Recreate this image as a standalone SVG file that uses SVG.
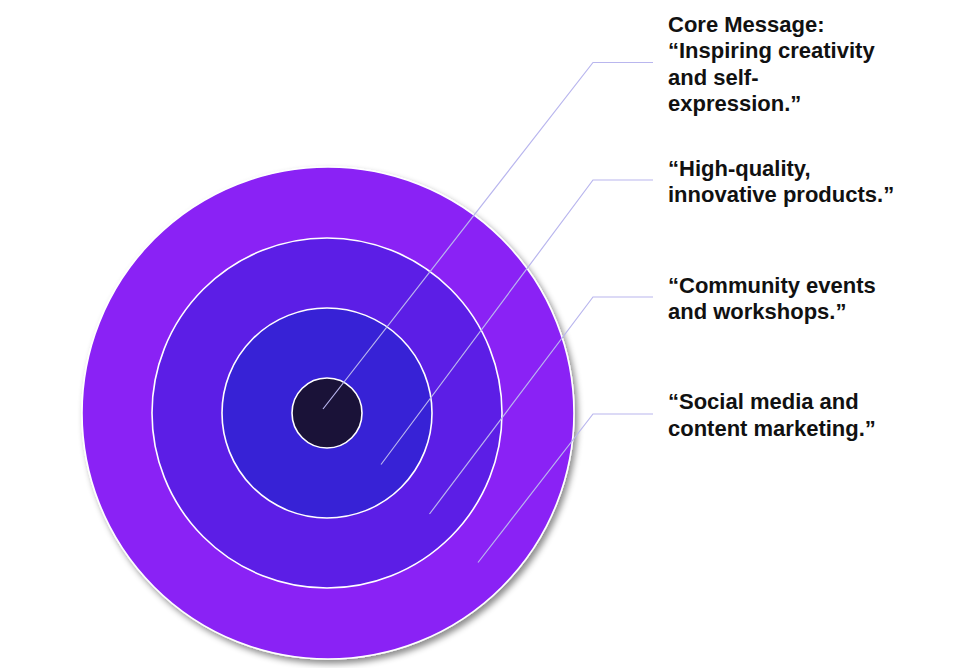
<svg xmlns="http://www.w3.org/2000/svg" width="980" height="668" viewBox="0 0 980 668">
<defs>
<filter id="sh" x="-10%" y="-10%" width="125%" height="125%">
<feDropShadow dx="3" dy="4" stdDeviation="3" flood-color="#000" flood-opacity="0.45"/>
</filter>
<style>
.ring{stroke:#ffffff;stroke-width:1.6}
.lbl{font-family:"Liberation Sans",Arial,sans-serif;font-weight:bold;font-size:22px;fill:#111111;letter-spacing:0px}
.con{fill:none;stroke:#b9b6ee;stroke-width:1.2}
</style>
</defs>
<rect width="980" height="668" fill="#ffffff"/>
<g id="ring-outer"><circle cx="328" cy="413" r="246" fill="#8a24f5" class="ring" filter="url(#sh)"/></g>
<g id="ring-2"><circle cx="327" cy="413" r="175" fill="#5c1ee6" class="ring"/></g>
<g id="ring-3"><circle cx="327" cy="413" r="105" fill="#3722d6" class="ring"/></g>
<g id="core"><circle cx="327" cy="413" r="35" fill="#1a1238" class="ring"/></g>
<g id="connectors">
<polyline class="con" points="323,409 593,62.5 653,62.5"/>
<polyline class="con" points="381,464.5 593,180 653,180"/>
<polyline class="con" points="429.5,514 593,297 653,297"/>
<polyline class="con" points="478,562.5 593,414 653,414"/>
</g>
<g id="label-core"><text class="lbl" x="668" y="31.7">Core Message:<tspan x="668" y="58.3">“Inspiring creativity</tspan><tspan x="668" y="85">and self-</tspan><tspan x="668" y="111">expression.”</tspan></text></g>
<g id="label-products"><text class="lbl" x="668" y="176">“High-quality,<tspan x="668" y="202">innovative products.”</tspan></text></g>
<g id="label-community"><text class="lbl" x="668" y="292.5">“Community events<tspan x="668" y="319">and workshops.”</tspan></text></g>
<g id="label-social"><text class="lbl" x="668" y="409">“Social media and<tspan x="668" y="435.7">content marketing.”</tspan></text></g>
</svg>
